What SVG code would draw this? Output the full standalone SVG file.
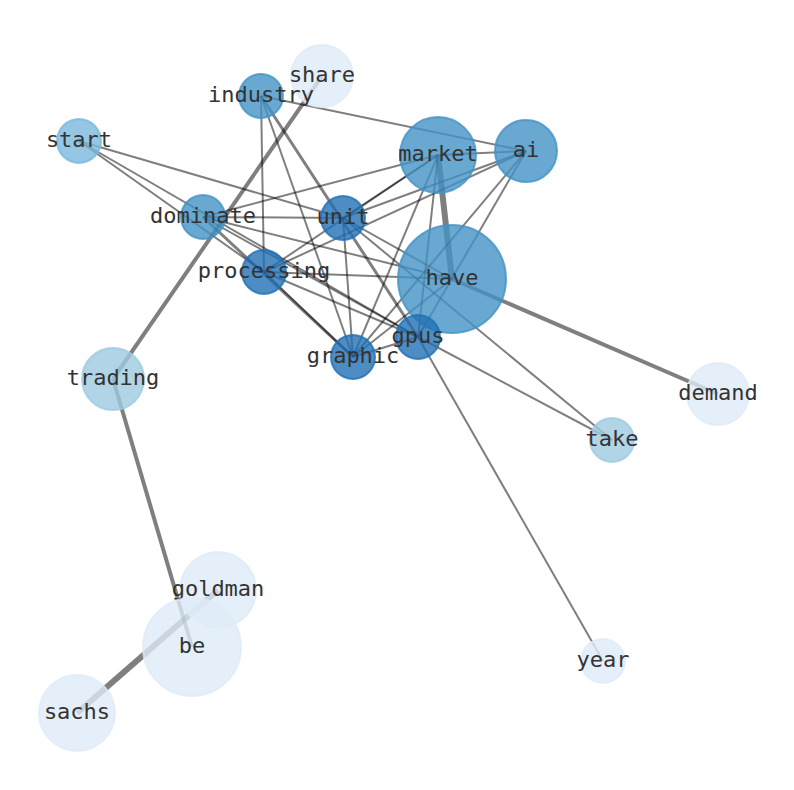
<svg xmlns="http://www.w3.org/2000/svg" width="794" height="790" viewBox="0 0 794 790">
<style>
.e{stroke:#000;stroke-opacity:0.5;stroke-width:2;fill:none}
.w3{stroke-width:3}
.w4{stroke-width:4}
.w5{stroke-width:6}
circle{stroke-width:2;fill-opacity:0.8;stroke-opacity:0.8}
.c1{fill:#deebf7;stroke:#deebf7}
.c2{fill:#9ecae1;stroke:#9ecae1}
.c3{fill:#7ab8dc;stroke:#7ab8dc}
.c4{fill:#4292c6;stroke:#4292c6}
.c5{fill:#2171b5;stroke:#2171b5}
text{font-family:"DejaVu Sans Mono","Liberation Mono",monospace;font-size:22px;fill:#333;text-anchor:middle;dominant-baseline:central}
</style>
<rect width="794" height="790" fill="#fff"/>
<g id="edges">
<line class="e w5" x1="438" y1="155" x2="452" y2="279"/>
<line class="e w4" x1="452" y1="279" x2="718" y2="394"/>
<line class="e w4" x1="322" y1="76" x2="113" y2="379"/>
<line class="e w4" x1="113" y1="379" x2="192" y2="647"/>
<line class="e w5" x1="77" y1="713" x2="218" y2="590"/>
<line class="e w3" x1="261" y1="96" x2="418" y2="337"/>
<line class="e w3" x1="203" y1="217" x2="353" y2="357"/>
<line class="e" x1="261" y1="96" x2="526" y2="151"/>
<line class="e" x1="261" y1="96" x2="264" y2="272"/>
<line class="e" x1="261" y1="96" x2="353" y2="357"/>
<line class="e" x1="79" y1="141" x2="343" y2="218"/>
<line class="e" x1="79" y1="141" x2="264" y2="272"/>
<line class="e" x1="79" y1="141" x2="418" y2="337"/>
<line class="e" x1="203" y1="217" x2="343" y2="218"/>
<line class="e" x1="203" y1="217" x2="438" y2="155"/>
<line class="e" x1="203" y1="217" x2="452" y2="279"/>
<line class="e" x1="203" y1="217" x2="418" y2="337"/>
<line class="e" x1="264" y1="272" x2="438" y2="155"/>
<line class="e" x1="343" y1="218" x2="438" y2="155"/>
<line class="e" x1="264" y1="272" x2="526" y2="151"/>
<line class="e" x1="264" y1="272" x2="452" y2="279"/>
<line class="e" x1="264" y1="272" x2="418" y2="337"/>
<line class="e" x1="264" y1="272" x2="353" y2="357"/>
<line class="e" x1="343" y1="218" x2="526" y2="151"/>
<line class="e" x1="343" y1="218" x2="452" y2="279"/>
<line class="e" x1="343" y1="218" x2="353" y2="357"/>
<line class="e" x1="343" y1="218" x2="612" y2="440"/>
<line class="e" x1="438" y1="155" x2="526" y2="151"/>
<line class="e" x1="438" y1="155" x2="353" y2="357"/>
<line class="e" x1="438" y1="155" x2="418" y2="337"/>
<line class="e" x1="526" y1="151" x2="353" y2="357"/>
<line class="e" x1="526" y1="151" x2="418" y2="337"/>
<line class="e" x1="452" y1="279" x2="353" y2="357"/>
<line class="e" x1="418" y1="337" x2="353" y2="357"/>
<line class="e" x1="418" y1="337" x2="612" y2="440"/>
<line class="e" x1="418" y1="337" x2="603" y2="661"/>
</g>
<g id="share"><circle class="c1" cx="322" cy="76" r="31"/><text x="322" y="74">share</text></g>
<g id="industry"><circle class="c4" cx="261" cy="96" r="22"/><text x="261" y="94">industry</text></g>
<g id="start"><circle class="c3" cx="79" cy="141" r="22"/><text x="79" y="139">start</text></g>
<g id="market"><circle class="c4" cx="438" cy="155" r="38"/><text x="438" y="153">market</text></g>
<g id="ai"><circle class="c4" cx="526" cy="151" r="31"/><text x="526" y="149">ai</text></g>
<g id="dominate"><circle class="c4" cx="203" cy="217" r="22"/><text x="203" y="215">dominate</text></g>
<g id="unit"><circle class="c5" cx="343" cy="218" r="22"/><text x="343" y="216">unit</text></g>
<g id="processing"><circle class="c5" cx="264" cy="272" r="22"/><text x="264" y="270">processing</text></g>
<g id="have"><circle class="c4" cx="452" cy="279" r="54"/><text x="452" y="277">have</text></g>
<g id="gpus"><circle class="c5" cx="418" cy="337" r="22"/><text x="418" y="335">gpus</text></g>
<g id="graphic"><circle class="c5" cx="353" cy="357" r="22"/><text x="353" y="355">graphic</text></g>
<g id="trading"><circle class="c2" cx="113" cy="379" r="31"/><text x="113" y="377">trading</text></g>
<g id="demand"><circle class="c1" cx="718" cy="394" r="31"/><text x="718" y="392">demand</text></g>
<g id="take"><circle class="c2" cx="612" cy="440" r="22"/><text x="612" y="438">take</text></g>
<g id="goldman"><circle class="c1" cx="218" cy="590" r="38"/><text x="218" y="588">goldman</text></g>
<g id="be"><circle class="c1" cx="192" cy="647" r="49"/><text x="192" y="645">be</text></g>
<g id="sachs"><circle class="c1" cx="77" cy="713" r="38"/><text x="77" y="711">sachs</text></g>
<g id="year"><circle class="c1" cx="603" cy="661" r="22"/><text x="603" y="659">year</text></g>
</svg>
